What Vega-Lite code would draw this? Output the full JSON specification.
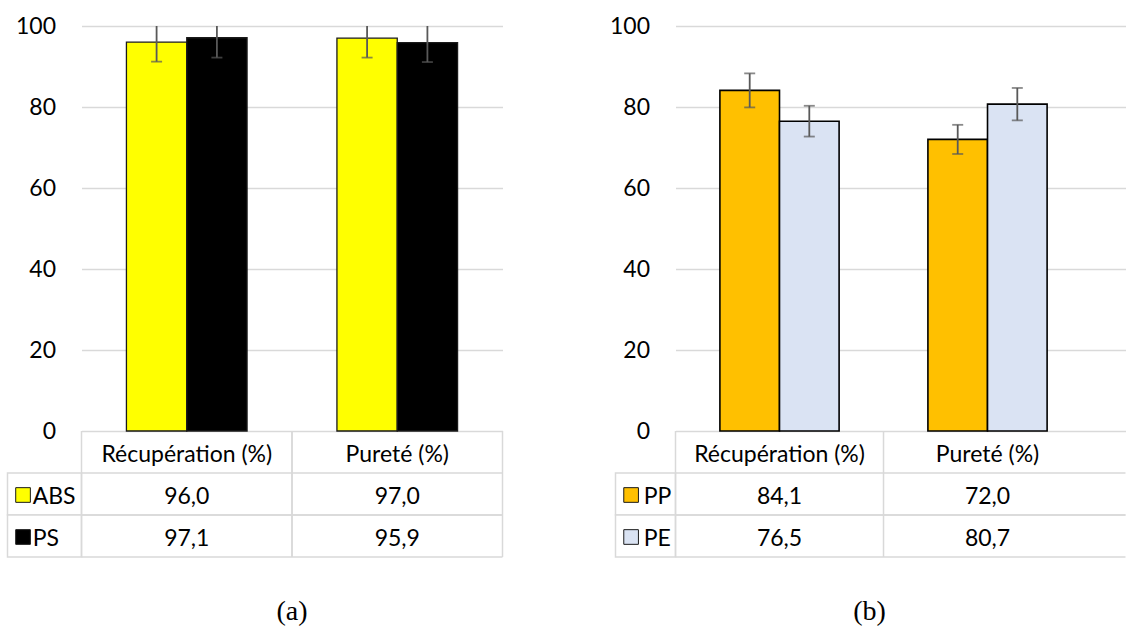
{
  "$schema": "https://vega.github.io/schema/vega-lite/v6.json",
  "padding": {"left": 6.5, "top": 15, "right": 0, "bottom": 0},
  "config": {
    "view": {"stroke": null},
    "font": "Lato",
    "text": {"font": "Lato", "fontSize": 23, "color": "#000000", "dy": 3},
    "axis": {"labelFont": "Lato"},
    "locale": {"number": {"decimal": ",", "thousands": " ", "grouping": [3], "currency": ["", " €"]}}
  },
  "datasets": {
    "d": [
      {"panel": "a", "cat": "Récupération (%)", "series": "ABS", "value": 96.0, "lo": 91.2, "hi": 100},
      {"panel": "a", "cat": "Récupération (%)", "series": "PS", "value": 97.1, "lo": 92.2, "hi": 100},
      {"panel": "a", "cat": "Pureté (%)", "series": "ABS", "value": 97.0, "lo": 92.2, "hi": 100},
      {"panel": "a", "cat": "Pureté (%)", "series": "PS", "value": 95.9, "lo": 91.1, "hi": 100},
      {"panel": "b", "cat": "Récupération (%)", "series": "PP", "value": 84.1, "lo": 79.9, "hi": 88.3},
      {"panel": "b", "cat": "Récupération (%)", "series": "PE", "value": 76.5, "lo": 72.7, "hi": 80.3},
      {"panel": "b", "cat": "Pureté (%)", "series": "PP", "value": 72.0, "lo": 68.4, "hi": 75.6},
      {"panel": "b", "cat": "Pureté (%)", "series": "PE", "value": 80.7, "lo": 76.7, "hi": 84.7}
    ]
  },
  "columns": 5,
  "align": "each",
  "bounds": "flush",
  "spacing": 0,
  "resolve": {"scale": {"x": "independent", "y": "independent", "xOffset": "independent", "fill": "independent"}},
  "concat": [
    {"width": 74, "height": 405, "data": {"values": []}, "mark": "point"},
    {
      "width": 421, "height": 405,
      "data": {"name": "d"},
      "transform": [{"filter": "datum.panel === 'a'"}],
      "encoding": {
        "x": {"field": "cat", "type": "nominal", "sort": null, "axis": null,
              "scale": {"domain": ["Récupération (%)", "Pureté (%)"], "paddingInner": 0, "paddingOuter": 0}},
        "xOffset": {"field": "series", "type": "nominal", "sort": null,
              "scale": {"domain": ["ABS", "PS"], "paddingInner": 0, "paddingOuter": 0.745}}
      },
      "layer": [
        {
          "mark": {"type": "bar", "stroke": "#1a1a1a", "strokeWidth": 1.3},
          "encoding": {
            "y": {"field": "value", "type": "quantitative",
                  "scale": {"domain": [0, 100], "nice": false},
                  "axis": {"values": [0, 20, 40, 60, 80, 100], "title": null, "grid": true, "gridColor": "#d9d9d9", "gridWidth": 1.5,
                           "domain": false, "ticks": false, "labelPadding": 26, "labelFontSize": 23, "labelColor": "#000000"}},
            "fill": {"field": "series", "type": "nominal", "scale": {"domain": ["ABS", "PS"], "range": ["#FFFF00", "#000000"]}, "legend": null}
          }
        },
        {
          "mark": {"type": "rule", "color": "#595959", "strokeWidth": 1.8},
          "encoding": {"y": {"field": "lo", "type": "quantitative"}, "y2": {"field": "hi"}}
        },
        {
          "mark": {"type": "tick", "color": "#595959", "thickness": 1.8, "size": 11},
          "encoding": {"y": {"field": "lo", "type": "quantitative"}}
        },
        {
          "transform": [{"filter": "datum.hi < 100"}],
          "mark": {"type": "tick", "color": "#595959", "thickness": 1.8, "size": 11},
          "encoding": {"y": {"field": "hi", "type": "quantitative"}}
        }
      ]
    },
    {"width": 113, "height": 405, "data": {"values": []}, "mark": "point"},
    {"width": 60, "height": 405, "data": {"values": []}, "mark": "point"},
    {
      "width": 450, "height": 405,
      "data": {"name": "d"},
      "transform": [{"filter": "datum.panel === 'b'"}],
      "encoding": {
        "x": {"field": "cat", "type": "nominal", "sort": null, "axis": null,
              "scale": {"domain": ["Récupération (%)", "Pureté (%)"], "paddingInner": 0, "paddingOuter": 0.0817, "align": 0}},
        "xOffset": {"field": "series", "type": "nominal", "sort": null,
              "scale": {"domain": ["PP", "PE"], "paddingInner": 0, "paddingOuter": 0.745}}
      },
      "layer": [
        {
          "mark": {"type": "bar", "stroke": "#000000", "strokeWidth": 1.6},
          "encoding": {
            "y": {"field": "value", "type": "quantitative",
                  "scale": {"domain": [0, 100], "nice": false},
                  "axis": {"values": [0, 20, 40, 60, 80, 100], "title": null, "grid": true, "gridColor": "#d9d9d9", "gridWidth": 1.5,
                           "domain": false, "ticks": false, "labelPadding": 26, "labelFontSize": 23, "labelColor": "#000000"}},
            "fill": {"field": "series", "type": "nominal", "scale": {"domain": ["PP", "PE"], "range": ["#FFC000", "#DAE3F3"]}, "legend": null}
          }
        },
        {
          "mark": {"type": "rule", "color": "#595959", "strokeWidth": 1.8},
          "encoding": {"y": {"field": "lo", "type": "quantitative"}, "y2": {"field": "hi"}}
        },
        {
          "mark": {"type": "tick", "color": "#595959", "thickness": 1.8, "size": 11},
          "encoding": {"y": {"field": "lo", "type": "quantitative"}}
        },
        {
          "transform": [{"filter": "datum.hi < 100"}],
          "mark": {"type": "tick", "color": "#595959", "thickness": 1.8, "size": 11},
          "encoding": {"y": {"field": "hi", "type": "quantitative"}}
        }
      ]
    },
    {
      "width": 74, "height": 126,
      "data": {"name": "d"},
      "transform": [{"filter": "datum.panel === 'a'"}, {"aggregate": [], "groupby": ["series"]}],
      "encoding": {
        "y": {"field": "series", "type": "nominal", "axis": null,
              "scale": {"domain": ["h", "ABS", "PS"], "paddingInner": 0, "paddingOuter": 0}}
      },
      "layer": [
        {
          "mark": {"type": "rect", "fill": "#ffffff", "stroke": "#d9d9d9", "strokeWidth": 1.5},
          "encoding": {
            "x": {"datum": 0, "type": "quantitative", "scale": {"domain": [0, 1]}, "axis": null},
            "x2": {"datum": 1}
          }
        },
        {
          "mark": {"type": "point", "shape": "square", "filled": true, "opacity": 1, "size": 215, "stroke": "#1a1a1a", "strokeWidth": 1, "yOffset": 1},
          "encoding": {
            "x": {"datum": 0.21, "type": "quantitative"},
            "fill": {"field": "series", "type": "nominal", "scale": {"domain": ["ABS", "PS"], "range": ["#FFFF00", "#000000"]}, "legend": null}
          }
        },
        {
          "mark": {"type": "text", "align": "left", "baseline": "middle"},
          "encoding": {
            "x": {"datum": 0.34, "type": "quantitative"},
            "text": {"field": "series"}
          }
        }
      ]
    },
    {
      "width": 421, "height": 126,
      "data": {"name": "d"},
      "transform": [{"filter": "datum.panel === 'a'"}],
      "title": {"text": "(a)", "orient": "bottom", "font": "Liberation Serif", "fontSize": 28, "fontWeight": "normal", "offset": 40, "color": "#000000"},
      "layer": [
        {
          "transform": [{"aggregate": [], "groupby": ["series"]}],
          "mark": {"type": "rule", "color": "#d9d9d9", "strokeWidth": 1.5},
          "encoding": {"y": {"field": "series", "type": "nominal", "bandPosition": 0, "axis": null,
              "scale": {"domain": ["h", "ABS", "PS"], "paddingInner": 0, "paddingOuter": 0}}}
        },
        {
          "transform": [{"aggregate": [], "groupby": ["series"]}],
          "mark": {"type": "rule", "color": "#d9d9d9", "strokeWidth": 1.5},
          "encoding": {"y": {"field": "series", "type": "nominal", "bandPosition": 1}}
        },
        {
          "transform": [{"aggregate": [], "groupby": ["cat"]}],
          "mark": {"type": "rule", "color": "#d9d9d9", "strokeWidth": 1.5},
          "encoding": {"x": {"field": "cat", "type": "nominal", "sort": null, "bandPosition": 0, "axis": null,
              "scale": {"domain": ["Récupération (%)", "Pureté (%)"], "paddingInner": 0, "paddingOuter": 0}}}
        },
        {
          "transform": [{"aggregate": [], "groupby": ["cat"]}],
          "mark": {"type": "rule", "color": "#d9d9d9", "strokeWidth": 1.5},
          "encoding": {"x": {"field": "cat", "type": "nominal", "sort": null, "bandPosition": 1}}
        },
        {
          "transform": [{"aggregate": [], "groupby": ["cat"]}],
          "mark": {"type": "text", "baseline": "middle"},
          "encoding": {"x": {"field": "cat", "type": "nominal", "sort": null}, "y": {"datum": "h", "type": "nominal"}, "text": {"field": "cat"}}
        },
        {
          "mark": {"type": "text", "baseline": "middle"},
          "encoding": {"x": {"field": "cat", "type": "nominal", "sort": null}, "y": {"field": "series", "type": "nominal"}, "text": {"field": "value", "type": "quantitative", "format": ".1f"}}
        }
      ]
    },
    {"width": 113, "height": 126, "data": {"values": []}, "mark": "point"},
    {
      "width": 60, "height": 126,
      "data": {"name": "d"},
      "transform": [{"filter": "datum.panel === 'b'"}, {"aggregate": [], "groupby": ["series"]}],
      "encoding": {
        "y": {"field": "series", "type": "nominal", "axis": null,
              "scale": {"domain": ["h", "PP", "PE"], "paddingInner": 0, "paddingOuter": 0}}
      },
      "layer": [
        {
          "mark": {"type": "rect", "fill": "#ffffff", "stroke": "#d9d9d9", "strokeWidth": 1.5},
          "encoding": {
            "x": {"datum": 0, "type": "quantitative", "scale": {"domain": [0, 1]}, "axis": null},
            "x2": {"datum": 1}
          }
        },
        {
          "mark": {"type": "point", "shape": "square", "filled": true, "opacity": 1, "size": 215, "stroke": "#1a1a1a", "strokeWidth": 1, "yOffset": 1},
          "encoding": {
            "x": {"datum": 0.26, "type": "quantitative"},
            "fill": {"field": "series", "type": "nominal", "scale": {"domain": ["PP", "PE"], "range": ["#FFC000", "#DAE3F3"]}, "legend": null}
          }
        },
        {
          "mark": {"type": "text", "align": "left", "baseline": "middle"},
          "encoding": {
            "x": {"datum": 0.47, "type": "quantitative"},
            "text": {"field": "series"}
          }
        }
      ]
    },
    {
      "width": 450, "height": 126,
      "data": {"name": "d"},
      "transform": [{"filter": "datum.panel === 'b'"}],
      "title": {"text": "(b)", "orient": "bottom", "font": "Liberation Serif", "fontSize": 28, "fontWeight": "normal", "offset": 40, "dx": -31, "color": "#000000"},
      "layer": [
        {
          "transform": [{"aggregate": [], "groupby": ["series"]}],
          "mark": {"type": "rule", "color": "#d9d9d9", "strokeWidth": 1.5},
          "encoding": {"y": {"field": "series", "type": "nominal", "bandPosition": 0, "axis": null,
              "scale": {"domain": ["h", "PP", "PE"], "paddingInner": 0, "paddingOuter": 0}}}
        },
        {
          "transform": [{"aggregate": [], "groupby": ["series"]}],
          "mark": {"type": "rule", "color": "#d9d9d9", "strokeWidth": 1.5},
          "encoding": {"y": {"field": "series", "type": "nominal", "bandPosition": 1}}
        },
        {
          "transform": [{"aggregate": [], "groupby": ["cat"]}],
          "mark": {"type": "rule", "color": "#d9d9d9", "strokeWidth": 1.5},
          "encoding": {"x": {"field": "cat", "type": "nominal", "sort": null, "bandPosition": 0, "axis": null,
              "scale": {"domain": ["Récupération (%)", "Pureté (%)"], "paddingInner": 0, "paddingOuter": 0.0817, "align": 0}}}
        },
        {
          "transform": [{"aggregate": [], "groupby": ["cat"]}],
          "mark": {"type": "text", "baseline": "middle"},
          "encoding": {"x": {"field": "cat", "type": "nominal", "sort": null}, "y": {"datum": "h", "type": "nominal"}, "text": {"field": "cat"}}
        },
        {
          "mark": {"type": "text", "baseline": "middle"},
          "encoding": {"x": {"field": "cat", "type": "nominal", "sort": null}, "y": {"field": "series", "type": "nominal"}, "text": {"field": "value", "type": "quantitative", "format": ".1f"}}
        }
      ]
    }
  ]
}
